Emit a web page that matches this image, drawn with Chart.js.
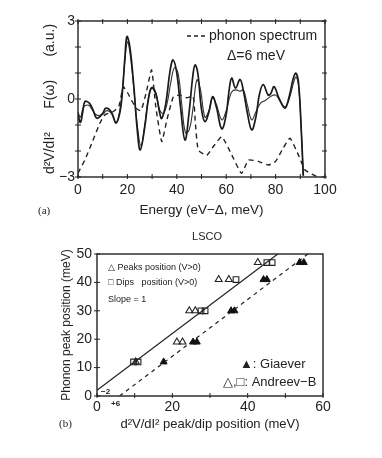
<!DOCTYPE html>
<html><head><meta charset="utf-8">
<script src="https://cdn.jsdelivr.net/npm/chart.js@4.4.1/dist/chart.umd.min.js"></script>
<style>
html,body{margin:0;padding:0;background:#fff;width:382px;height:458px;overflow:hidden}
canvas{position:absolute;left:0}
</style></head><body>
<canvas id="ca" width="382" height="230" style="top:0"></canvas>
<canvas id="cb" width="382" height="228" style="top:230px"></canvas>
<script>
// ---------- panel (a) data ----------
const energyThick = [0,1,2,2.8,4.5,6,7.6,10,11.3,13.5,15.4,17,18,19,19.8,21,22.5,24,25.2,27,28.5,29.8,31.5,33,33.9,35.5,37.3,38.5,40,41.5,43.3,45,46.5,47.4,48.5,50,51.4,53,54.5,56,58.2,60,61,62.2,63.8,65.6,67,68.5,70.3,72,73.5,75,77,78,79.4,81.5,83.8,85.5,87.3,88.3,89.3,90.3,91.2];
const signalThick = [-0.6,-0.9,-0.45,-0.1,-0.15,-0.4,-0.74,-0.55,-0.35,-0.5,-0.93,-0.5,0.3,1.6,2.4,2.0,0.6,-1.2,-1.96,-1.1,0.0,0.43,0.2,-0.5,-0.75,-0.2,1.1,1.5,1.0,-0.3,-1.58,-0.5,0.9,1.31,1.0,-0.4,-0.87,-0.5,0.09,-0.3,-1.15,-0.6,0.2,0.8,0.42,0.75,0.3,-0.5,-1.19,-0.7,0.2,0.55,0.15,0.2,0.47,0.0,-0.35,0.1,0.85,0.99,0.6,-1.0,-2.95];
const energyThin = [0,1,2,3,4.5,6,7.6,10,11.5,13.5,15.4,17,18,19,20,21,22.5,24,25.5,27,28.5,30,31.5,33,34.5,36,37.5,39,40.5,42,43.5,45,46.5,48.1,49.5,51.4,53,54.5,56,58.2,60,61.5,62.5,64,65.6,67,68.5,70.3,72,74,76,78,80,82,83.8,85.5,87.5,88.3,89.3,90.3,91.2];
const signalThin = [-0.5,-0.7,-0.35,-0.25,-0.25,-0.45,-0.62,-0.6,-0.45,-0.55,-0.9,-0.4,0.4,1.5,2.2,1.8,0.5,-1.0,-1.8,-1.0,0.0,0.45,0.25,-0.4,-0.55,-0.2,0.6,1.2,1.0,-0.2,-1.3,-1.2,-0.4,0.73,0.4,-0.7,-0.45,0.05,-0.2,-0.8,-0.45,0.1,0.3,0.35,0.3,0.35,-0.2,-0.8,-0.5,-0.15,-0.05,0.1,0.15,-0.1,-0.3,0.0,0.7,0.85,0.5,-1.0,-2.95];
const phononEnergy = [0,3,6,9,11,14,16.5,18.3,20,21.7,23.5,25.5,27.5,29.8,31.5,33.9,36,38.6,41,44,46.6,47.5,48.7,52.1,55,58.2,62,66.2,69,73,77.1,80,83,85.8,89,91.9,95.3,97];
const phononF = [-2.85,-2.3,-1.6,-0.9,-0.6,-0.5,-0.3,0.47,0.25,-0.05,-0.35,-0.45,0.2,1.12,-0.3,-1.64,-0.8,0.09,0.15,0.05,0.1,-0.9,-1.96,-2.17,-1.8,-1.45,-2.1,-2.86,-2.35,-2.4,-2.54,-2.4,-1.9,-1.51,-2.1,-2.73,-2.92,-3.0];
const xTicksA = [0,20,40,60,80,100];
const yTicksA = [-3,0,3];

// ---------- panel (b) data ----------
const peaksX = [42.7,32.3,35.0,24.5,26.1,21.2,22.7,10.3];
const peaksY = [47,41,41,30,30,19,19,12];
const dipsX = [45.1,46.5,36.9,27.6,28.7,9.7,10.9];
const dipsY = [47,47,41,30,30,12,12];
const giaeverX = [53.8,54.9,44.2,45.1,35.6,36.5,25.5,26.5,17.7];
const giaeverY = [47,47,41,41,30,30,19,19,12];
const fitSolidX = [0,48];
const fitSolidY = [2,50];
const fitDashX = [6,56];
const fitDashY = [0,50];

const pts = (xs, ys) => xs.map((x, i) => ({x, y: ys[i]}));
const INK = '#222';
const FONT = 'Liberation Sans';

Chart.defaults.font.family = FONT;
Chart.defaults.color = INK;

function frameAndTicks(xStep, yStep, allSides) {
  return {
    id: 'frame',
    afterDatasetsDraw(chart) {
      const {ctx, chartArea: a, scales: {x, y}} = chart;
      ctx.save();
      ctx.strokeStyle = INK;
      ctx.lineWidth = 1.4;
      ctx.strokeRect(a.left, a.top, a.right - a.left, a.bottom - a.top);
      ctx.lineWidth = 1;
      ctx.beginPath();
      for (let v = x.min; v <= x.max + 1e-9; v += xStep) {
        const px = x.getPixelForValue(v);
        ctx.moveTo(px, a.bottom + 2); ctx.lineTo(px, a.bottom - 3);
        if (allSides) { ctx.moveTo(px, a.top - 2); ctx.lineTo(px, a.top + 3); }
      }
      for (let v = y.min; v <= y.max + 1e-9; v += yStep) {
        const py = y.getPixelForValue(v);
        ctx.moveTo(a.left - 3, py); ctx.lineTo(a.left + 3, py);
        if (allSides) { ctx.moveTo(a.right + 2, py); ctx.lineTo(a.right - 3, py); }
      }
      ctx.stroke();
      ctx.restore();
    }
  };
}

// ---------- chart (a) ----------
new Chart(document.getElementById('ca'), {
  type: 'line',
  data: {
    datasets: [
      {data: pts(energyThick, signalThick), borderColor: '#1a1a1a', borderWidth: 1.7, pointRadius: 0, tension: 0.4, fill: false},
      {data: pts(energyThin, signalThin), borderColor: '#333', borderWidth: 1.1, pointRadius: 0, tension: 0.4, fill: false},
      {data: pts(phononEnergy, phononF), borderColor: '#222', borderWidth: 1.4, borderDash: [5, 4], pointRadius: 0, tension: 0.15, fill: false}
    ]
  },
  options: {
    responsive: false, animation: false, devicePixelRatio: 1,
    layout: {padding: {left: 0, top: 21, right: 57, bottom: 0}},
    plugins: {legend: {display: false}, tooltip: {enabled: false}},
    scales: {
      x: {
        type: 'linear', min: 0, max: 100,
        afterBuildTicks: s => { s.ticks = xTicksA.map(v => ({value: v})); },
        afterFit: s => { s.height = 53; },
        grid: {display: false, drawTicks: false}, border: {display: false},
        ticks: {padding: 5, font: {size: 14}, color: INK, maxRotation: 0},
        title: {display: true, text: 'Energy (eV\u2212\u0394, meV)', font: {size: 13.5}, color: INK, padding: {top: 0, bottom: 12}}
      },
      y: {
        type: 'linear', min: -3, max: 3,
        afterBuildTicks: s => { s.ticks = yTicksA.map(v => ({value: v})); },
        afterFit: s => { s.width = 78; },
        grid: {display: false, drawTicks: false}, border: {display: false},
        ticks: {padding: 3, font: {size: 14}, color: INK, callback: v => v < 0 ? '\u2212' + Math.abs(v) : String(v)},
        title: {display: true, text: 'd\u00b2V/dI\u00b2      F(\u03c9)      (a.u.)', font: {size: 14}, color: INK, padding: {top: 42, bottom: 0}}
      }
    }
  },
  plugins: [frameAndTicks(10, 1, true), {
    id: 'annA',
    afterDraw(chart) {
      const {ctx} = chart;
      ctx.save();
      ctx.fillStyle = INK; ctx.strokeStyle = INK;
      ctx.font = '14px ' + FONT;
      ctx.textBaseline = 'middle';
      ctx.lineWidth = 1.4; ctx.setLineDash([4, 3]);
      ctx.beginPath(); ctx.moveTo(187, 36); ctx.lineTo(207, 36); ctx.stroke();
      ctx.setLineDash([]);
      ctx.fillText('phonon spectrum', 209, 36);
      ctx.fillText('\u0394=6 meV', 227, 56);
      ctx.font = '11px Liberation Serif';
      ctx.fillText('(a)', 38, 211);
      ctx.restore();
    }
  }]
});

// ---------- chart (b) ----------
new Chart(document.getElementById('cb'), {
  type: 'scatter',
  data: {
    datasets: [
      {label: 'peaks', data: pts(peaksX, peaksY), pointStyle: 'triangle', pointRadius: 4, backgroundColor: 'rgba(255,255,255,0)', borderColor: INK, borderWidth: 1.1, order: 1},
      {label: 'dips', data: pts(dipsX, dipsY), pointStyle: 'rect', pointRadius: 4, backgroundColor: 'rgba(255,255,255,0)', borderColor: INK, borderWidth: 1.1, order: 1},
      {label: 'giaever', data: pts(giaeverX, giaeverY), pointStyle: 'triangle', pointRadius: 4, backgroundColor: '#111', borderColor: '#111', borderWidth: 1, order: 1},
      {label: 'fit', data: pts(fitSolidX, fitSolidY), showLine: true, pointRadius: 0, borderColor: INK, borderWidth: 1.2, order: 5},
      {label: 'fit2', data: pts(fitDashX, fitDashY), showLine: true, pointRadius: 0, borderColor: INK, borderWidth: 1.2, borderDash: [4, 4], order: 5}
    ]
  },
  options: {
    responsive: false, animation: false, devicePixelRatio: 1,
    layout: {padding: {left: 0, top: 24, right: 59, bottom: 0}},
    plugins: {legend: {display: false}, tooltip: {enabled: false}},
    scales: {
      x: {
        type: 'linear', min: 0, max: 60,
        ticks: {stepSize: 20, padding: 3, font: {size: 14}, color: INK, maxRotation: 0},
        afterFit: s => { s.height = 62; },
        grid: {display: false, drawTicks: false}, border: {display: false},
        title: {display: true, text: 'd\u00b2V/dI\u00b2 peak/dip position (meV)', font: {size: 13}, color: INK, padding: {top: 0, bottom: 26}}
      },
      y: {
        type: 'linear', min: 0, max: 50,
        ticks: {stepSize: 10, padding: 5, font: {size: 14}, color: INK},
        afterFit: s => { s.width = 97; },
        grid: {display: false, drawTicks: false}, border: {display: false},
        title: {display: true, text: 'Phonon peak position (meV)', font: {size: 12}, color: INK, padding: {top: 59, bottom: 0}}
      }
    }
  },
  plugins: [frameAndTicks(10, 10, false), {
    id: 'annB',
    afterDraw(chart) {
      const {ctx} = chart;
      ctx.save();
      ctx.fillStyle = INK;
      ctx.textBaseline = 'middle';
      ctx.textAlign = 'center';
      ctx.font = '11px ' + FONT;
      ctx.fillText('LSCO', 207, 7);
      ctx.textAlign = 'left';
      ctx.font = '9px ' + FONT;
      ctx.fillText('\u25b3 Peaks position (V>0)', 108, 38);
      ctx.fillText('\u25a1 Dips   position (V>0)', 108, 53);
      ctx.fillText('Slope = 1', 108, 70);
      ctx.font = 'bold 8px ' + FONT;
      ctx.fillText('\u22122', 101, 162);
      ctx.fillText('+6', 111, 174);
      ctx.font = '13px ' + FONT;
      ctx.fillText('\u25b2: Giaever', 240, 134);
      ctx.fillText('\u25b3,\u25a1: Andreev\u2212B', 223, 152);
      ctx.font = '11px Liberation Serif';
      ctx.fillText('(b)', 59, 194);
      ctx.restore();
    }
  }]
});
</script>
</body></html>
